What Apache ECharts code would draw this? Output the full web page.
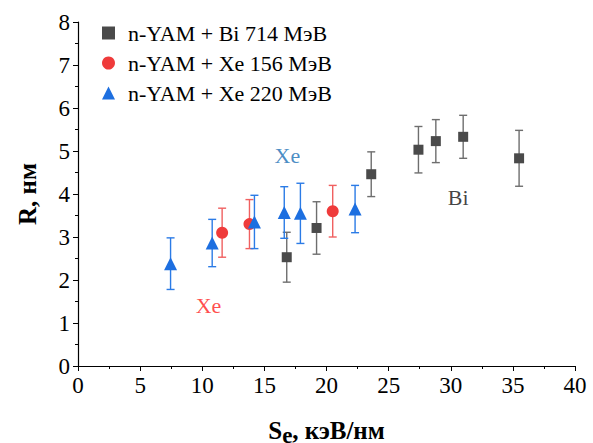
<!DOCTYPE html>
<html><head><meta charset="utf-8">
<script src="https://cdn.jsdelivr.net/npm/echarts@6/dist/echarts.min.js"></script>
<style>
html,body{margin:0;padding:0;background:#fff;font-family:"Liberation Serif",serif}
#c{width:593px;height:443px}
#c svg text{font-family:"Liberation Serif",serif !important}
</style>
</head><body><div id="c"></div>
<script>
// Data
var seriesNames = ['n-YAM + Bi 714 МэВ', 'n-YAM + Xe 156 МэВ', 'n-YAM + Xe 220 МэВ'];
var biX = [16.8, 19.2, 23.6, 27.4, 28.8, 31.0, 35.5];
var biY = [2.53, 3.21, 4.46, 5.03, 5.23, 5.33, 4.83];
var biErr = [0.58, 0.61, 0.52, 0.54, 0.5, 0.5, 0.65];
var xe156X = [11.6, 13.8, 20.5];
var xe156Y = [3.10, 3.30, 3.60];
var xe156Err = [0.57, 0.57, 0.6];
var xe220X = [7.45, 10.8, 14.2, 16.6, 17.9, 22.3];
var xe220Y = [2.38, 2.86, 3.35, 3.57, 3.55, 3.65];
var xe220Err = [0.6, 0.55, 0.62, 0.6, 0.7, 0.55];
var annX = [16.85, 30.6, 10.5];
var annY = [4.9, 3.92, 1.41];
var annText = ['Xe', 'Bi', 'Xe'];
var annColor = ['#1a6fb5', '#111111', '#ff1e1e'];

function pts(xs, ys){ return xs.map(function(x,i){ return [x, ys[i]]; }); }
function errPts(xs, ys, es){ return xs.map(function(x,i){ return [x, ys[i]-es[i], ys[i]+es[i]]; }); }

function errSeries(data, color){
  return {
    type: 'custom', silent: true, z: 1,
    data: data,
    encode: {x: 0, y: [1, 2]},
    renderItem: function(params, api){
      var lo = api.coord([api.value(0), api.value(1)]);
      var hi = api.coord([api.value(0), api.value(2)]);
      var w = 4;
      var st = {stroke: color, lineWidth: 1.4};
      return {type: 'group', children: [
        {type: 'line', shape: {x1: lo[0], y1: lo[1], x2: hi[0], y2: hi[1]}, style: st},
        {type: 'line', shape: {x1: lo[0]-w, y1: lo[1], x2: lo[0]+w, y2: lo[1]}, style: st},
        {type: 'line', shape: {x1: hi[0]-w, y1: hi[1], x2: hi[0]+w, y2: hi[1]}, style: st}
      ]};
    }
  };
}

var font = 'Liberation Serif';
var chart = echarts.init(document.getElementById('c'), null, {renderer: 'svg'});
chart.setOption({
  animation: false,
  backgroundColor: '#fff',
  textStyle: {fontFamily: font},
  grid: {left: 78, right: 18, top: 22, bottom: 77, outerBoundsMode: 'none', containLabel: false},
  legend: {
    orient: 'vertical', left: 97, top: 17,
    itemWidth: 13, itemHeight: 13, itemGap: 8,
    textStyle: {fontFamily: font, fontSize: 22, color: '#000', padding: [0,0,0,8]},
    data: [
      {name: seriesNames[0], icon: 'rect'},
      {name: seriesNames[1], icon: 'circle'},
      {name: seriesNames[2], icon: 'triangle'}
    ]
  },
  xAxis: {
    type: 'value', min: 0, max: 40, interval: 5,
    name: '{a|S}{b|e}{a|, кэВ/нм}', nameLocation: 'middle', nameGap: 48,
    nameTextStyle: {fontFamily: font, rich: {
      a: {fontFamily: font, fontSize: 25, fontWeight: 'bold', color: '#000'},
      b: {fontFamily: font, fontSize: 23, fontWeight: 'bold', color: '#000', padding: [10,0,0,0]}
    }},
    axisLine: {lineStyle: {color: '#000', width: 1.2}},
    axisTick: {inside: false, length: 5, lineStyle: {color: '#000'}},
    minorTick: {show: true, splitNumber: 2, length: 3, lineStyle: {color: '#000'}},
    axisLabel: {fontFamily: font, fontSize: 23, color: '#000', margin: 8},
    splitLine: {show: false}
  },
  yAxis: {
    type: 'value', min: 0, max: 8, interval: 1,
    name: 'R, нм', nameLocation: 'middle', nameGap: 38,
    nameTextStyle: {fontFamily: font, fontSize: 25, fontWeight: 'bold', color: '#000'},
    axisLine: {show: true, lineStyle: {color: '#000', width: 1.2}},
    axisTick: {show: true, inside: false, length: 5, lineStyle: {color: '#000'}},
    minorTick: {show: true, splitNumber: 2, length: 3, lineStyle: {color: '#000'}},
    axisLabel: {fontFamily: font, fontSize: 23, color: '#000', margin: 8},
    splitLine: {show: false}
  },
  series: [
    errSeries(errPts(biX, biY, biErr), '#6e6e6e'),
    errSeries(errPts(xe156X, xe156Y, xe156Err), '#f06060'),
    errSeries(errPts(xe220X, xe220Y, xe220Err), '#2b7be6'),
    {name: seriesNames[0], type: 'scatter', symbol: 'rect', symbolSize: 10, z: 3,
     itemStyle: {color: '#4a4a4a', opacity: 1}, data: pts(biX, biY)},
    {name: seriesNames[1], type: 'scatter', symbol: 'circle', symbolSize: 12, z: 3,
     itemStyle: {color: '#ef3b3b', opacity: 1}, data: pts(xe156X, xe156Y)},
    {name: seriesNames[2], type: 'scatter', symbol: 'triangle', symbolSize: 13, z: 3,
     itemStyle: {color: '#1d6fe0', opacity: 1}, data: pts(xe220X, xe220Y)},
    {type: 'scatter', silent: true, symbolSize: 0, z: 4,
     data: annX.map(function(x,i){ return {value: [x, annY[i]],
       label: {show: true, position: 'inside', formatter: annText[i],
         fontFamily: font, fontSize: 22, color: annColor[i]}}; })}
  ]
});
</script></body></html>
